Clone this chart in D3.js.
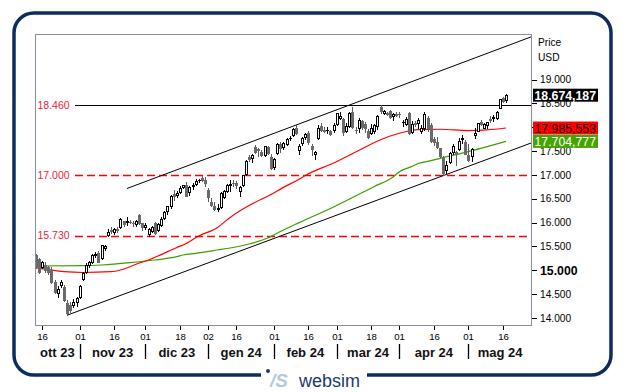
<!DOCTYPE html>
<html><head><meta charset="utf-8">
<script src="https://cdn.jsdelivr.net/npm/d3@7"></script>
<style>html,body{margin:0;padding:0;background:#fff;}svg{display:block;font-family:"Liberation Sans",Arial,sans-serif;}</style>
</head><body><svg id="c" width="627" height="392"></svg>
<script>
// ---- DATA ----
const dates = ["2023-10-12","2023-10-13","2023-10-16","2023-10-17","2023-10-18","2023-10-19","2023-10-20","2023-10-23","2023-10-24","2023-10-25","2023-10-26","2023-10-27","2023-10-30","2023-10-31",
"2023-11-01","2023-11-02","2023-11-03","2023-11-06","2023-11-07","2023-11-08","2023-11-09","2023-11-10","2023-11-13","2023-11-14","2023-11-15","2023-11-16","2023-11-17","2023-11-20","2023-11-21","2023-11-22","2023-11-24","2023-11-27","2023-11-28","2023-11-29","2023-11-30",
"2023-12-01","2023-12-04","2023-12-05","2023-12-06","2023-12-07","2023-12-08","2023-12-11","2023-12-12","2023-12-13","2023-12-14","2023-12-15","2023-12-18","2023-12-19","2023-12-20","2023-12-21","2023-12-22","2023-12-26","2023-12-27","2023-12-28","2023-12-29",
"2024-01-02","2024-01-03","2024-01-04","2024-01-05","2024-01-08","2024-01-09","2024-01-10","2024-01-11","2024-01-12","2024-01-16","2024-01-17","2024-01-18","2024-01-19","2024-01-22","2024-01-23","2024-01-24","2024-01-25","2024-01-26","2024-01-29","2024-01-30","2024-01-31",
"2024-02-01","2024-02-02","2024-02-05","2024-02-06","2024-02-07","2024-02-08","2024-02-09","2024-02-12","2024-02-13","2024-02-14","2024-02-15","2024-02-16","2024-02-20","2024-02-21","2024-02-22","2024-02-23","2024-02-26","2024-02-27","2024-02-28","2024-02-29",
"2024-03-01","2024-03-04","2024-03-05","2024-03-06","2024-03-07","2024-03-08","2024-03-11","2024-03-12","2024-03-13","2024-03-14","2024-03-15","2024-03-18","2024-03-19","2024-03-20","2024-03-21","2024-03-22","2024-03-25","2024-03-26","2024-03-27","2024-03-28",
"2024-04-01","2024-04-02","2024-04-03","2024-04-04","2024-04-05","2024-04-08","2024-04-09","2024-04-10","2024-04-11","2024-04-12","2024-04-15","2024-04-16","2024-04-17","2024-04-18","2024-04-19","2024-04-22","2024-04-23","2024-04-24","2024-04-25","2024-04-26","2024-04-29","2024-04-30",
"2024-05-01","2024-05-02","2024-05-03","2024-05-06","2024-05-07","2024-05-08","2024-05-09","2024-05-10","2024-05-13","2024-05-14","2024-05-15","2024-05-16","2024-05-17"];

const openV = [15320,15240,15075,15110,15060,15007,14760,14525,14690,14655,14308,14270,14270,14340,
14447,14812,14972,15112,15180,15320,15370,15252,15470,15740,15840,15800,15870,15900,16030,16020,16020,16000,15980,16160,15990,
15900,15760,15830,15990,15850,15960,16100,16240,16360,16600,16570,16640,16750,16800,16640,16760,16810,16890,16940,16900,
16690,16430,16340,16280,16320,16540,16670,16800,16840,16840,16660,16790,17020,17380,17350,17590,17540,17480,17420,17580,17370,
17170,17470,17660,17590,17650,17770,17830,17980,17520,17670,17800,17880,17600,17430,17780,18020,17950,17940,17920,17950,
18060,18200,18170,17930,18020,18330,17950,17990,18140,18060,17930,17880,17930,18030,18430,18300,18300,18340,18240,18280,
18290,18110,18080,18300,17900,18090,18100,17930,17990,18200,18050,17760,17700,17560,17380,17110,17270,17480,17480,17550,17760,17700,
17410,17400,17830,17930,18110,17990,18050,18170,18200,18200,18410,18610,18570];

const highV = [15345,15260,15200,15170,15100,15060,14790,14680,14800,14690,14370,14330,14400,14440,
14700,14960,15150,15200,15340,15380,15400,15540,15540,15860,15900,15880,15900,16100,16040,16110,16050,16040,16060,16180,16000,
16000,15880,15940,16020,16000,16110,16240,16360,16580,16680,16660,16760,16800,16850,16770,16830,16910,16920,16970,16960,
16720,16520,16430,16400,16650,16680,16820,16900,16900,16880,16760,17010,17320,17420,17430,17620,17560,17520,17610,17600,17430,
17360,17680,17690,17700,17780,17820,17980,18040,17640,17790,17880,17920,17640,17500,18040,18100,18000,18000,17950,18100,
18310,18320,18190,18090,18330,18420,18000,18200,18160,18120,17960,18080,18060,18250,18470,18370,18330,18360,18300,18320,
18330,18150,18210,18330,18140,18130,18190,18050,18320,18230,18100,17800,17790,17570,17400,17300,17490,17650,17500,17780,17830,17740,
17650,17560,17990,18100,18160,18090,18120,18230,18250,18340,18600,18630,18700];

const lowV = [15040,14940,15050,14960,14930,14740,14530,14430,14650,14350,14065,14120,14230,14250,
14420,14790,14950,15080,15160,15270,15170,15230,15430,15720,15780,15760,15800,15880,15930,15960,15990,15940,15930,15970,15850,
15860,15730,15800,15770,15830,15920,16080,16180,16300,16470,16530,16620,16720,16550,16580,16700,16800,16860,16880,16760,
16450,16350,16270,16240,16310,16520,16640,16660,16770,16720,16560,16770,16990,17290,17280,17470,17400,17400,17390,17440,17130,
17120,17440,17480,17540,17630,17740,17810,17850,17440,17620,17760,17660,17410,17340,17760,17920,17900,17880,17840,17900,
18040,18180,17830,17900,18010,17980,17890,17900,17960,17900,17780,17870,17880,17960,18300,18290,18250,18200,18150,18230,
18210,18020,18050,17870,17880,18030,17980,17890,17950,17930,17700,17630,17560,17370,16990,17050,17250,17440,17200,17520,17670,17430,
17300,17300,17780,17920,18050,17980,17990,18120,18140,18170,18400,18540,18530];

const closeV = [15070,14965,15180,15005,14960,14760,14550,14610,14760,14377,14111,14170,14340,14420,
14680,14937,15112,15180,15322,15345,15180,15531,15500,15810,15830,15860,15840,16070,15970,16025,16010,15990,16030,15990,15900,
15960,15860,15910,15780,15980,16080,16230,16350,16560,16550,16630,16730,16780,16560,16750,16800,16880,16905,16890,16830,
16540,16370,16290,16310,16630,16660,16790,16820,16835,16780,16740,16990,17300,17330,17410,17490,17520,17420,17600,17470,17140,
17340,17640,17560,17680,17760,17785,17960,17880,17600,17780,17850,17690,17540,17480,17990,17940,17920,17950,17860,18040,
18300,18240,17910,18020,18310,18000,17940,18150,18000,17980,17800,17990,18050,18240,18340,18340,18280,18210,18280,18255,
18270,18120,18170,17880,18060,18080,18150,17990,18290,17980,17710,17700,17580,17400,17040,17210,17470,17610,17430,17720,17780,17440,
17320,17540,17890,18090,18070,18060,18110,18160,18210,18320,18590,18560,18674.187];

// moving averages (date, value)
const maRedDates  = ["2023-10-12","2023-10-25","2023-11-02","2023-11-15","2023-11-20","2023-11-29","2023-12-04","2023-12-08","2023-12-15","2023-12-19","2023-12-27","2024-01-05","2024-01-11","2024-01-22","2024-01-31","2024-02-06","2024-02-13","2024-02-15","2024-02-29","2024-03-12","2024-03-21","2024-04-01","2024-04-09","2024-04-18","2024-05-01","2024-05-09","2024-05-17"];
const maRedValues = [15055,14971,14954,14971,15007,15154,15217,15330,15480,15531,15720,15900,16110,16360,16590,16740,16910,16990,17252,17515,17740,17875,17950,17960,17932,17946,17985.553];
const maGreenDates  = ["2023-10-12","2023-11-02","2023-11-10","2023-11-24","2023-12-06","2023-12-15","2023-12-19","2023-12-26","2024-01-05","2024-01-11","2024-01-22","2024-01-30","2024-02-06","2024-02-13","2024-02-29","2024-03-19","2024-03-27","2024-04-01","2024-04-05","2024-04-09","2024-04-15","2024-04-18","2024-05-01","2024-05-09","2024-05-17"];
const maGreenValues = [15091,15097,15112,15160,15217,15286,15322,15357,15427,15468,15552,15678,15846,16000,16330,16760,16960,17069,17180,17240,17300,17350,17489,17594,17704.777];

// trend channel: [bar index, value] end points
const channelUpper = [[29.1,16717],[158.3,19905]];
const channelLower = [[10.18,14063],[158.3,17678]];

// horizontal levels
const levelValues = [18460,17000,15730];
const levelKinds  = ["solid","dashed","dashed"];

// axis ticks (18.000 sits fully under the red value box in the reference)
const priceTicks = [14000,14500,15000,15500,16000,16500,17000,17500,18000,18500,19000];
const hiddenTickLabels = [18000];
const dayTickDates = ["2023-10-16","2023-11-01","2023-11-16","2023-12-01","2023-12-18","2024-01-02","2024-01-16","2024-02-01","2024-02-16","2024-03-01","2024-03-18","2024-04-01","2024-04-16","2024-05-01","2024-05-16"];
const monthStartDates = ["2023-11-01","2023-12-01","2024-01-02","2024-02-01","2024-03-01","2024-04-01","2024-05-01"];
const monthLabels = ["ott 23","nov 23","dic 23","gen 24","feb 24","mar 24","apr 24","mag 24"];

// ---- RENDER ----
const svg = d3.select("#c");
const P = {l:35, t:34, r:532, b:325};
const it = d3.formatLocale({decimal:",", thousands:".", grouping:[3], currency:["","€"]});
const fInt = it.format(",.0f"), f3 = it.format(",.3f");
const idx = d => dates.indexOf(d);

const x = d3.scaleLinear().domain([-0.25, dates.length - 1 + 8.3]).range([P.l, P.r]);
const y = d3.scaleLinear().domain([13853, 19958]).range([P.b, P.t]);

// outer frame
svg.append("rect").attr("x",14).attr("y",13).attr("width",597).attr("height",362).attr("rx",20)
  .attr("fill","none").attr("stroke","#0e2d5e").attr("stroke-width",3.5);
svg.append("rect").attr("x",261).attr("y",366).attr("width",106).attr("height",16).attr("fill","#fff");
svg.append("circle").attr("cx",268).attr("cy",371).attr("r",2).attr("fill","#1e3a6d");
svg.append("text").attr("x",270).attr("y",387).attr("font-size",19).attr("font-weight","bold")
  .attr("font-style","italic").attr("fill","#b4c9e6").text("/S");
svg.append("text").attr("x",299).attr("y",386.5).attr("font-size",18).attr("fill","#1e3a6d").text("websim");

// clip
svg.append("clipPath").attr("id","pc").append("rect").attr("x",P.l).attr("y",P.t).attr("width",P.r-P.l).attr("height",P.b-P.t);
const g = svg.append("g").attr("clip-path","url(#pc)");

// levels
levelValues.forEach((v,k) => {
  const yy = Math.round(y(v)) + 0.5;
  g.append("line").attr("x1",75).attr("x2",P.r).attr("y1",yy).attr("y2",yy)
   .attr("stroke", levelKinds[k]==="solid" ? "#000" : "#ff0000")
   .attr("stroke-width", levelKinds[k]==="solid" ? 1 : 1.3)
   .attr("stroke-dasharray", levelKinds[k]==="solid" ? null : "8,4");
  svg.append("text").attr("x",37.5).attr("y",y(v)+3.8).attr("font-size",10.5).attr("fill","#f0203c").text(fInt(v));
});

// channel lines
[channelUpper, channelLower].forEach(c => {
  g.append("line").attr("x1",x(c[0][0])).attr("y1",y(c[0][1])).attr("x2",x(c[1][0])).attr("y2",y(c[1][1]))
   .attr("stroke","#000").attr("stroke-width",1);
});

// moving averages
const lineGen = d3.line().x(d => x(idx(d[0]))).y(d => y(d[1])).curve(d3.curveMonotoneX);
g.append("path").datum(maGreenDates.map((d,k)=>[d,maGreenValues[k]])).attr("d",lineGen)
  .attr("fill","none").attr("stroke","#3c9e00").attr("stroke-width",1.2);
g.append("path").datum(maRedDates.map((d,k)=>[d,maRedValues[k]])).attr("d",lineGen)
  .attr("fill","none").attr("stroke","#ff0000").attr("stroke-width",1.2);

// candles
const cg = g.append("g");
dates.forEach((d,k) => {
  const c = Math.round(x(k));
  const up = closeV[k] >= openV[k];
  const wc = up ? "#000" : "#5c5c5c";
  cg.append("line").attr("x1",c+0.5).attr("x2",c+0.5)
    .attr("y1",Math.round(y(highV[k]))).attr("y2",Math.round(y(lowV[k]))+1)
    .attr("stroke",wc).attr("stroke-width",1);
  const yt = Math.round(y(Math.max(openV[k],closeV[k])));
  const yb = Math.round(y(Math.min(openV[k],closeV[k])));
  cg.append("rect").attr("x",c-0.5).attr("y",yt+0.5).attr("width",2).attr("height",Math.max(0.01,yb-yt))
    .attr("fill", up ? "#fff" : "#6a6a6a").attr("stroke", up ? "#000" : "#6a6a6a").attr("stroke-width",1);
});

// plot border
svg.append("rect").attr("x",P.l+0.5).attr("y",P.t+0.5).attr("width",P.r-P.l-1).attr("height",P.b-P.t)
  .attr("fill","none").attr("stroke","#8c8c9a").attr("stroke-width",1);

// right axis
priceTicks.forEach(v => {
  const yy = Math.round(y(v)) + 0.5;
  svg.append("line").attr("x1",P.r).attr("x2",P.r+5).attr("y1",yy).attr("y2",yy).attr("stroke","#000");
  if (hiddenTickLabels.includes(v)) return;
  const bold = v === 15000;
  svg.append("text").attr("x",540).attr("y",y(v)+(bold?4.3:3.6))
    .attr("font-size",bold?12.3:10.2).attr("font-weight",bold?"bold":"normal").attr("fill","#000").text(fInt(v));
});
svg.append("text").attr("x",538).attr("y",46).attr("font-size",10.2).text("Price");
svg.append("text").attr("x",538).attr("y",61).attr("font-size",10.2).text("USD");

// value boxes
const boxes = [
  {v: closeV[closeV.length-1], bg:"#000", fg:"#fff", bold:true},
  {v: maRedValues[maRedValues.length-1], bg:"#ff0000", fg:"#1a0000", bold:false},
  {v: maGreenValues[maGreenValues.length-1], bg:"#44a500", fg:"#fff", bold:false}
];
boxes.forEach(b => {
  const yc = y(b.v);
  svg.append("rect").attr("x",533).attr("y",yc-6.5).attr("width",65).attr("height",13).attr("fill",b.bg);
  svg.append("text").attr("x",534.5).attr("y",yc+4.5).attr("font-size",12.3)
    .attr("font-weight",b.bold?"bold":"normal").attr("fill",b.fg).text(f3(b.v));
});

// bottom axis: day ticks
const fDay = d3.timeFormat("%d"), parse = d3.timeParse("%Y-%m-%d");
dayTickDates.forEach(d => {
  const xx = Math.round(x(idx(d))) + 0.5;
  svg.append("line").attr("x1",xx).attr("x2",xx).attr("y1",326).attr("y2",330).attr("stroke","#000");
  svg.append("text").attr("x",xx).attr("y",340).attr("text-anchor","middle").attr("font-size",9.6)
    .attr("fill","#000").text(fDay(parse(d)));
});
// month separators and labels
const bounds = [P.l].concat(monthStartDates.map(d => x(idx(d)))).concat([P.r]);
monthStartDates.forEach(d => {
  const xx = Math.round(x(idx(d))) + 0.5;
  svg.append("line").attr("x1",xx).attr("x2",xx).attr("y1",344).attr("y2",359).attr("stroke","#000").attr("stroke-width",1.3);
});
monthLabels.forEach((m,k) => {
  svg.append("text").attr("x",(bounds[k]+bounds[k+1])/2).attr("y",356.5).attr("text-anchor","middle")
    .attr("font-size",13).attr("font-weight","bold").attr("fill","#111").text(m);
});
</script></body></html>
